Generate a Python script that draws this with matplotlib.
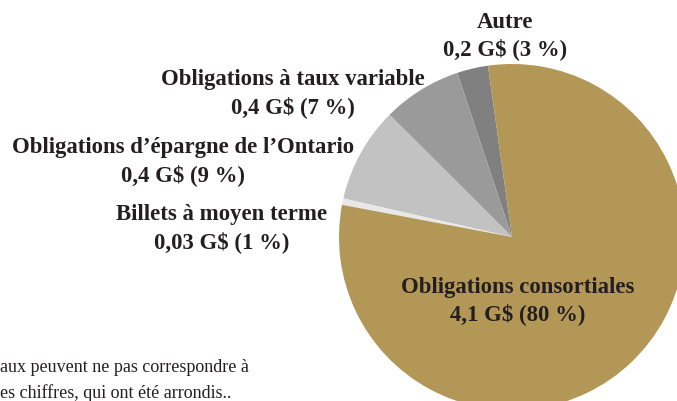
import matplotlib.pyplot as plt

# shares of the pie (in %)
categories = ["Autre", "Obligations à taux variable",
              "Obligations d\u2019épargne de l\u2019Ontario",
              "Billets à moyen terme", "Obligations consortiales"]
shares = [2.9, 7.4, 8.9, 0.6, 80.2]
amounts = ["0,2 G$ (3 %)", "0,4 G$ (7 %)", "0,4 G$ (9 %)",
           "0,03 G$ (1 %)", "4,1 G$ (80 %)"]
colors = ["#808080", "#9a9a9a", "#c2c2c2", "#e8e8e8", "#b39757"]

W, H = 677, 402
fig = plt.figure(figsize=(W / 100, H / 100), dpi=100)
fig.patch.set_facecolor("white")

# pie centre (512, 238) px, radius 173 px
cx, cy, r = 512, 238, 173
ax = fig.add_axes([(cx - r) / W, (H - cy - r) / H, 2 * r / W, 2 * r / H])
ax.pie(shares, colors=colors, startangle=98, counterclock=True,
       wedgeprops=dict(linewidth=0))
ax.set_xlim(-1, 1)
ax.set_ylim(-1, 1)
ax.set_aspect("equal")
ax.axis("off")

font = dict(family="Liberation Serif", weight="bold", size=16.4, color="#231f20")

# label positions (px): centre x, first line y
label_pos = [(505, 22), (293, 80), (183, 148), (222, 215), (518, 287)]
for name, amt, (x, y) in zip(categories, amounts, label_pos):
    fig.text(x / W, 1 - y / H, name, ha="center", va="center", **font)
    fig.text(x / W, 1 - (y + 27) / H, amt, ha="center", va="center", **font)

note = dict(family="Liberation Serif", size=13, color="#231f20")
fig.text(0, 1 - 368 / H, "aux peuvent ne pas correspondre à", ha="left", va="center", **note)
fig.text(0, 1 - 393 / H, "es chiffres, qui ont été arrondis..", ha="left", va="center", **note)

fig.savefig("out.png", dpi=100)
